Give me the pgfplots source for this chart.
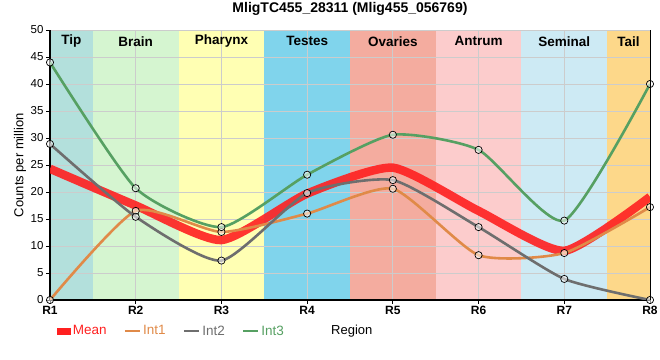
\documentclass[border=0pt]{standalone}
\usepackage{pgfplots}
\pgfplotsset{compat=1.18}
\usepackage{fontspec}
\setmainfont{Liberation Sans}
\definecolor{cTip}{HTML}{B3E0DC}
\definecolor{cBrain}{HTML}{D5F5D0}
\definecolor{cPhar}{HTML}{FFFFB3}
\definecolor{cTest}{HTML}{80D4EC}
\definecolor{cOva}{HTML}{F4AC9F}
\definecolor{cAnt}{HTML}{FCCCCC}
\definecolor{cSem}{HTML}{CDEAF4}
\definecolor{cTail}{HTML}{FDD88A}
\definecolor{cMean}{HTML}{FF2020}
\definecolor{cInt1}{HTML}{E08A48}
\definecolor{cInt2}{HTML}{6E6E6E}
\definecolor{cInt3}{HTML}{56A062}
\begin{document}
\begin{tikzpicture}
\begin{axis}[
  name=ax,
  set layers,
  scale only axis,
  width=600pt, height=270pt,
  xmin=1, xmax=8, ymin=0, ymax=50,
  xtick={1,...,8},
  xticklabels={R1,R2,R3,R4,R5,R6,R7,R8},
  ytick={0,5,...,50},
  grid=major,
  grid style={draw=black!20, line width=0.8pt},
  axis x line*=bottom, axis y line*=left,
  axis line style={line width=1.6pt, -},
  tick align=outside,
  major tick length=4pt,
  tick style={black, line width=0.8pt},
  /pgf/number format/assume math mode=true,
  yticklabel style={font=\fontsize{11.5}{13}\selectfont, xshift=1pt},
  xticklabel style={font=\fontsize{12}{14}\selectfont\bfseries, yshift=1pt},
  every axis title shift=0pt,
  title={MligTC455\_28311 (Mlig455\_056769)},
  title style={at={(axis description cs:0.5,1.078)}, anchor=center, font=\fontsize{14}{16}\selectfont\bfseries},
  ylabel={Counts per million},
  ylabel style={at={(axis description cs:-0.05,0.5)}, anchor=center, font=\fontsize{13}{15}\selectfont},
  xlabel={Region},
  xlabel style={at={(axis description cs:0.503,-0.115)}, anchor=center, font=\fontsize{13}{15}\selectfont},
  legend style={at={(axis description cs:0.006,-0.115)}, anchor=west, draw=none, fill=none,
    font=\fontsize{13.5}{15}\selectfont, /tikz/every even column/.append style={column sep=15pt}},
  legend columns=4,
  clip mode=individual,
]
% background bands
\addplot[fill=cTip, draw=none, on layer=axis background, forget plot] coordinates {(1,50) (1.5,50)} \closedcycle;
\addplot[fill=cBrain, draw=none, on layer=axis background, forget plot] coordinates {(1.5,50) (2.5,50)} \closedcycle;
\addplot[fill=cPhar, draw=none, on layer=axis background, forget plot] coordinates {(2.5,50) (3.5,50)} \closedcycle;
\addplot[fill=cTest, draw=none, on layer=axis background, forget plot] coordinates {(3.5,50) (4.5,50)} \closedcycle;
\addplot[fill=cOva, draw=none, on layer=axis background, forget plot] coordinates {(4.5,50) (5.5,50)} \closedcycle;
\addplot[fill=cAnt, draw=none, on layer=axis background, forget plot] coordinates {(5.5,50) (6.5,50)} \closedcycle;
\addplot[fill=cSem, draw=none, on layer=axis background, forget plot] coordinates {(6.5,50) (7.5,50)} \closedcycle;
\addplot[fill=cTail, draw=none, on layer=axis background, forget plot] coordinates {(7.5,50) (8,50)} \closedcycle;

% Mean
\addplot[cMean, opacity=0.9, line width=8.5pt, smooth, tension=0.35, no markers,
  legend image code/.code={\path[fill=cMean, draw=none, line width=0pt, opacity=1] (0pt,-3.5pt) rectangle (14pt,3.5pt);}]
  coordinates {(1,24.3) (2,17.5) (3,11.1) (4,19.7) (5,24.5) (6,16.5) (7,9.1) (8,19.1)};
\addlegendentry{\textcolor{cMean}{Mean}}
% Int1
\addplot[cInt1, line width=2.6pt, smooth, tension=0.35, mark=*, mark size=3.6pt,
  mark options={draw=black, line width=0.7pt, fill=white, fill opacity=0.55},
  legend image code/.code={\draw[cInt1, line width=2.6pt] (0pt,0pt) -- (15pt,0pt);}]
  coordinates {(1,0) (2,16.5) (3,12.6) (4,16) (5,20.6) (6,8.3) (7,8.7) (8,17.2)};
\addlegendentry{\textcolor{cInt1}{Int1}}
% Int2
\addplot[cInt2, line width=2.6pt, smooth, tension=0.35, mark=*, mark size=3.6pt,
  mark options={draw=black, line width=0.7pt, fill=white, fill opacity=0.55},
  legend image code/.code={\draw[cInt2, line width=2.6pt] (0pt,0pt) -- (15pt,0pt);}]
  coordinates {(1,28.9) (2,15.4) (3,7.3) (4,19.8) (5,22.2) (6,13.5) (7,3.9) (8,0)};
\addlegendentry{\textcolor{cInt2}{Int2}}
% Int3
\addplot[cInt3, line width=2.6pt, smooth, tension=0.35, mark=*, mark size=3.6pt,
  mark options={draw=black, line width=0.7pt, fill=white, fill opacity=0.55},
  legend image code/.code={\draw[cInt3, line width=2.6pt] (0pt,0pt) -- (15pt,0pt);}]
  coordinates {(1,44) (2,20.7) (3,13.5) (4,23.2) (5,30.6) (6,27.8) (7,14.7) (8,40)};
\addlegendentry{\textcolor{cInt3}{Int3}}

% band labels
\node[font=\fontsize{13.5}{15}\selectfont\bfseries] at (axis cs:1.25,47.9) {Tip};
\node[font=\fontsize{13.5}{15}\selectfont\bfseries] at (axis cs:2,47.9) {Brain};
\node[font=\fontsize{13.5}{15}\selectfont\bfseries] at (axis cs:3,47.9) {Pharynx};
\node[font=\fontsize{13.5}{15}\selectfont\bfseries] at (axis cs:4,47.9) {Testes};
\node[font=\fontsize{13.5}{15}\selectfont\bfseries] at (axis cs:5,47.9) {Ovaries};
\node[font=\fontsize{13.5}{15}\selectfont\bfseries] at (axis cs:6,47.9) {Antrum};
\node[font=\fontsize{13.5}{15}\selectfont\bfseries] at (axis cs:7,47.9) {Seminal};
\node[font=\fontsize{13.5}{15}\selectfont\bfseries] at (axis cs:7.75,47.9) {Tail};
\end{axis}
\draw[black, line width=0.8pt] (ax.south east) -- (ax.north east);
\pgfresetboundingbox
\useasboundingbox ([shift={(-50pt,-60pt)}]ax.south west) rectangle ([shift={(10pt,30pt)}]ax.north east);
\end{tikzpicture}
\end{document}
